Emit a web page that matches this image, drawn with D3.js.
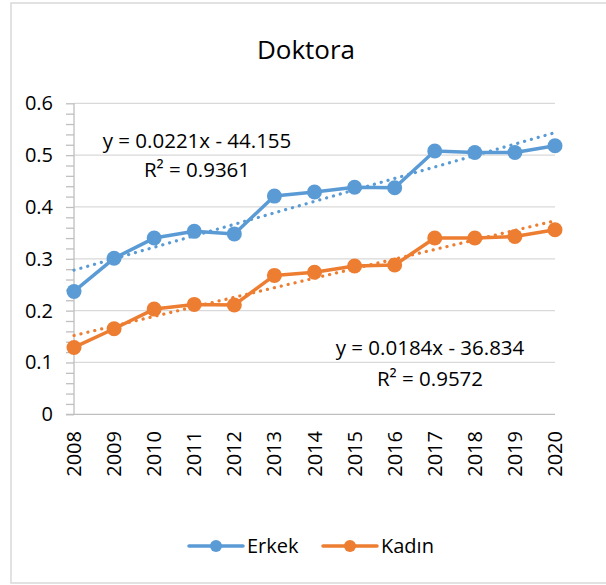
<!doctype html>
<html lang="tr">
<head>
    <meta charset="utf-8">
    <script src="https://d3js.org/d3.v7.min.js"></script>
    <title>Doktora</title>
    <style>
        body { margin: 0; background: #fff; }
        text { font-family: "Open Sans", sans-serif; fill: #000; }
    </style>
</head>
<body>
    <svg id="svg1" width="606" height="585"></svg>

    <script>
        // data
        let years = [2008, 2009, 2010, 2011, 2012, 2013, 2014, 2015, 2016, 2017, 2018, 2019, 2020];
        let erkek = [0.237, 0.301, 0.340, 0.353, 0.348, 0.421, 0.429, 0.438, 0.437, 0.508, 0.505, 0.505, 0.518];
        let kadin = [0.129, 0.165, 0.203, 0.212, 0.211, 0.268, 0.274, 0.286, 0.288, 0.340, 0.340, 0.343, 0.356];
        let yTicks = [0, 0.1, 0.2, 0.3, 0.4, 0.5, 0.6];
        let seriesNames = ["Erkek", "Kadın"];
        let seriesColors = ["#5B9BD5", "#ED7D31"];
        let trendLabels = [["y = 0.0221x - 44.155", "R² = 0.9361"], ["y = 0.0184x - 36.834", "R² = 0.9572"]];

        let svg = d3.select("#svg1");
        let plot = { left: 74, right: 555, top: 103.3, bottom: 414.3 };

        let xScale = d3.scalePoint().domain(years).range([plot.left, plot.right]);
        let yScale = d3.scaleLinear().domain([0, 0.6]).range([plot.bottom, plot.top]);

        // chart border
        svg.append("rect")
            .attr("x", 11).attr("y", 3)
            .attr("width", 620).attr("height", 580)
            .attr("fill", "none")
            .attr("stroke", "#d9d9d9")
            .attr("stroke-width", 1.5);

        // title
        svg.append("text")
            .attr("x", 306).attr("y", 59)
            .attr("text-anchor", "middle")
            .style("font-size", "26px")
            .text("Doktora");

        // gridlines
        svg.append("g")
            .selectAll("line")
            .data(yTicks.filter(d => d > 0))
            .join("line")
            .attr("x1", plot.left).attr("x2", plot.right)
            .attr("y1", d => yScale(d)).attr("y2", d => yScale(d))
            .attr("stroke", "#d9d9d9")
            .attr("stroke-width", 1.3);

        // y axis with minor ticks every 0.02
        let yAxis = d3.axisLeft(yScale)
            .tickValues(d3.range(0, 0.6001, 0.02))
            .tickSize(8)
            .tickFormat("");
        let yAxisG = svg.append("g")
            .attr("transform", `translate(${plot.left},0)`)
            .call(yAxis);
        yAxisG.select(".domain").remove();
        yAxisG.selectAll("line").attr("stroke", "#bfbfbf").attr("stroke-width", 1.3);
        svg.append("line")
            .attr("x1", plot.left).attr("x2", plot.left)
            .attr("y1", plot.top).attr("y2", plot.bottom)
            .attr("stroke", "#bfbfbf").attr("stroke-width", 1.3);

        svg.append("g")
            .selectAll("text")
            .data(yTicks)
            .join("text")
            .attr("x", 53)
            .attr("y", d => yScale(d) + 7)
            .attr("text-anchor", "end")
            .style("font-size", "20px")
            .text(d => d3.format("")(d));

        // x axis
        svg.append("line")
            .attr("x1", plot.left - 8).attr("x2", plot.right)
            .attr("y1", plot.bottom).attr("y2", plot.bottom)
            .attr("stroke", "#bfbfbf").attr("stroke-width", 1.3);

        svg.append("g")
            .selectAll("text")
            .data(years)
            .join("text")
            .attr("transform", d => `translate(${xScale(d) + 7},431) rotate(-90)`)
            .attr("text-anchor", "end")
            .style("font-size", "20px")
            .text(d => d);

        // least squares trend from the data
        function trend(vals) {
            let mx = d3.mean(years), my = d3.mean(vals);
            let sxy = d3.sum(years, (x, i) => (x - mx) * (vals[i] - my));
            let sxx = d3.sum(years, x => (x - mx) * (x - mx));
            let b = sxy / sxx, a = my - b * mx;
            return [years[0], years[years.length - 1]].map(x => [x, a + b * x]);
        }

        let line = d3.line().x((d, i) => xScale(years[i])).y(d => yScale(d));

        [erkek, kadin].forEach((vals, k) => {
            let g = svg.append("g");
            g.append("path")
                .datum(trend(vals))
                .attr("d", d3.line().x(d => xScale(d[0])).y(d => yScale(d[1])))
                .attr("fill", "none")
                .attr("stroke", seriesColors[k])
                .attr("stroke-width", 3.2)
                .attr("stroke-linecap", "round")
                .attr("stroke-dasharray", "0.1 7");
            g.append("path")
                .datum(vals)
                .attr("d", line)
                .attr("fill", "none")
                .attr("stroke", seriesColors[k])
                .attr("stroke-width", 3.5)
                .attr("stroke-linejoin", "round");
            g.selectAll("circle")
                .data(vals)
                .join("circle")
                .attr("cx", (d, i) => xScale(years[i]))
                .attr("cy", d => yScale(d))
                .attr("r", 7.5)
                .attr("fill", seriesColors[k]);
        });

        // trend equations
        let labelPos = [[197, 148, 177], [430, 355, 385.5]];
        trendLabels.forEach((lines, k) => {
            lines.forEach((t, j) => {
                svg.append("text")
                    .attr("x", labelPos[k][0])
                    .attr("y", labelPos[k][j + 1])
                    .attr("text-anchor", "middle")
                    .style("font-size", "20.5px")
                    .text(t);
            });
        });

        // legend
        let legendX = [189, 323];
        let legend = svg.append("g")
            .selectAll("g")
            .data(seriesNames)
            .join("g")
            .attr("transform", (d, i) => `translate(${legendX[i]},546)`);
        legend.append("line")
            .attr("x1", 0).attr("x2", 54)
            .attr("stroke", (d, i) => seriesColors[i])
            .attr("stroke-width", 3.5)
            .attr("stroke-linecap", "round");
        legend.append("circle")
            .attr("cx", 27).attr("r", 6)
            .attr("fill", (d, i) => seriesColors[i]);
        legend.append("text")
            .attr("x", 58).attr("y", 7)
            .style("font-size", "20px")
            .text(d => d);
    </script>
</body>
</html>
